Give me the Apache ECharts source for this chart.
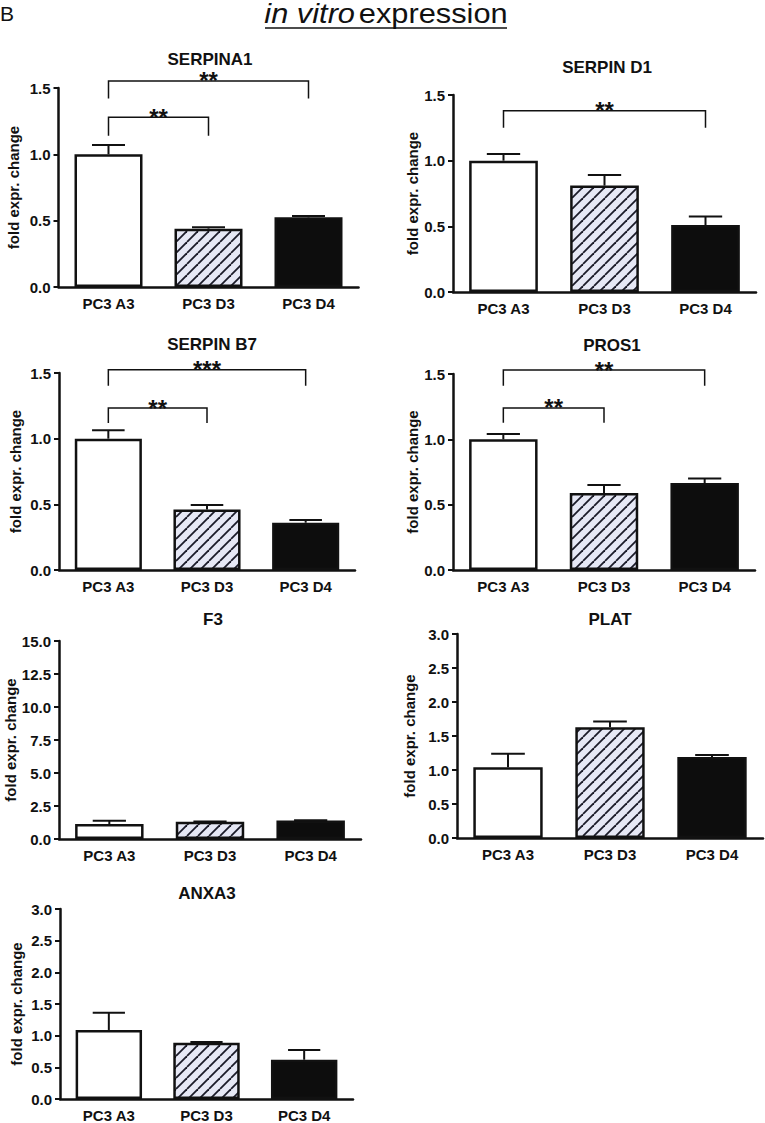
<!DOCTYPE html>
<html>
<head>
<meta charset="utf-8">
<script src="https://cdn.jsdelivr.net/npm/echarts@6/dist/echarts.min.js"></script>
<style>
html,body{margin:0;padding:0;background:#fff;}
#chart{width:765px;height:1123px;}
</style>
</head>
<body>
<div id="chart"></div>
<script>
// ---------- data ----------
const categories = ['PC3 A3', 'PC3 D3', 'PC3 D4'];
const panelTitles = ['SERPINA1', 'SERPIN D1', 'SERPIN B7', 'PROS1', 'F3', 'PLAT', 'ANXA3'];
const yAxisName = 'fold expr. change';

const serpina1 = [1.00, 0.44, 0.525];
const serpina1Err = [0.07, 0.01, 0.01];
const serpind1 = [1.00, 0.81, 0.51];
const serpind1Err = [0.05, 0.08, 0.065];
const serpinb7 = [1.00, 0.46, 0.36];
const serpinb7Err = [0.065, 0.035, 0.02];
const pros1 = [1.00, 0.59, 0.665];
const pros1Err = [0.04, 0.06, 0.035];
const f3 = [1.13, 1.30, 1.40];
const f3Err = [0.25, 0.03, 0.02];
const plat = [1.04, 1.63, 1.19];
const platErr = [0.20, 0.085, 0.03];
const anxa3 = [1.09, 0.89, 0.62];
const anxa3Err = [0.27, 0.01, 0.155];

const yMax = [1.5, 1.5, 1.5, 1.5, 15, 3, 3];
const yStep = [0.5, 0.5, 0.5, 0.5, 2.5, 0.5, 0.5];

// significance brackets: [fromIndex, toIndex, barLevel, legBottom, label]
const sigSerpina1 = [[0, 2, 1.553, 1.42, '**'], [0, 1, 1.28, 1.14, '**']];
const sigSerpind1 = [[0, 2, 1.38, 1.25, '**']];
const sigSerpinb7 = [[0, 2, 1.525, 1.403, '***'], [0, 1, 1.233, 1.119, '**']];
const sigPros1 = [[0, 2, 1.53, 1.41, '**'], [0, 1, 1.24, 1.127, '**']];

const means = [serpina1, serpind1, serpinb7, pros1, f3, plat, anxa3];
const errs = [serpina1Err, serpind1Err, serpinb7Err, pros1Err, f3Err, platErr, anxa3Err];
const sigs = [sigSerpina1, sigSerpind1, sigSerpinb7, sigPros1, [], [], []];

// ---------- layout ----------
const gridBoxes = [
  [58.5, 88, 300, 199],
  [453, 95, 303, 197],
  [59, 373, 296, 197],
  [453, 374, 302, 196],
  [59, 641, 302, 198],
  [457, 634, 306, 204],
  [60, 909, 293, 193]
];
const nameGaps = [38, 31, 36, 31, 38, 40, 36];
const titlePos = [[210, 59], [607, 67], [212, 344], [612, 345], [213, 619], [610, 619], [207, 893]];

const FONT = '"Liberation Sans", Arial, Helvetica, sans-serif';
const INK = '#111111';

function hatchCanvas() {
  const s = 11;
  const c = document.createElement('canvas');
  c.width = s; c.height = s;
  const g = c.getContext('2d');
  g.fillStyle = '#e6e8f5';
  g.fillRect(0, 0, s, s);
  g.strokeStyle = '#1a1a28';
  g.lineWidth = 1.8;
  for (let k = -1; k <= 1; k++) {
    g.beginPath();
    g.moveTo(k * s, s);
    g.lineTo(k * s + s, 0);
    g.stroke();
  }
  return c;
}
const hatch = { image: hatchCanvas(), repeat: 'repeat' };
const fills = ['#ffffff', hatch, '#0d0d0d'];

const grid = [], xAxis = [], yAxis = [], series = [], graphic = [];

gridBoxes.forEach((b, i) => {
  grid.push({ left: b[0], top: b[1], width: b[2], height: b[3], containLabel: false });
  xAxis.push({
    type: 'category', gridIndex: i, data: categories,
    axisLine: { lineStyle: { color: INK, width: 2.5 } },
    axisTick: { alignWithLabel: true, length: 5, lineStyle: { color: INK, width: 2 } },
    axisLabel: { color: INK, fontWeight: 'bold', fontSize: 15, margin: 9, fontFamily: FONT }
  });
  yAxis.push({
    type: 'value', gridIndex: i, min: 0, max: yMax[i], interval: yStep[i],
    axisLine: { show: true, lineStyle: { color: INK, width: 2.5 } },
    axisTick: { show: true, length: 5, lineStyle: { color: INK, width: 2 } },
    splitLine: { show: false },
    axisLabel: { color: INK, fontWeight: 'bold', fontSize: 15, margin: 8, fontFamily: FONT,
      formatter: v => v.toFixed(1) },
    name: yAxisName, nameLocation: 'middle', nameGap: nameGaps[i], nameRotate: 90,
    nameTextStyle: { color: INK, fontWeight: 'bold', fontSize: 15, fontFamily: FONT }
  });
  series.push({
    type: 'bar', xAxisIndex: i, yAxisIndex: i, barWidth: '68%', z: 2,
    data: means[i].map((v, j) => ({ value: v, itemStyle: { color: fills[j] } })),
    itemStyle: { borderColor: INK, borderWidth: 2.5 },
    emphasis: { disabled: true }, animation: false
  });
  series.push({
    type: 'custom', xAxisIndex: i, yAxisIndex: i, z: 3, animation: false,
    data: means[i].map((v, j) => [j, v, errs[i][j]]),
    renderItem: (params, api) => {
      const x = api.value(0), v = api.value(1), e = api.value(2);
      const p0 = api.coord([x, v]);
      const p1 = api.coord([x, v + e]);
      const half = api.size([1, 0])[0] * 0.165;
      return { type: 'group', children: [
        { type: 'line', shape: { x1: p0[0], y1: p0[1], x2: p1[0], y2: p1[1] }, style: { stroke: INK, lineWidth: 2 } },
        { type: 'line', shape: { x1: p1[0] - half, y1: p1[1], x2: p1[0] + half, y2: p1[1] }, style: { stroke: INK, lineWidth: 2 } }
      ] };
    }
  });
  if (sigs[i].length) {
    const sig = sigs[i];
    series.push({
      type: 'custom', xAxisIndex: i, yAxisIndex: i, z: 4, animation: false, clip: false,
      data: sig.map(s => [s[0], s[1], s[2], s[3]]),
      renderItem: (params, api) => {
        const a = api.coord([api.value(0), api.value(2)]);
        const b = api.coord([api.value(1), api.value(2)]);
        const la = api.coord([api.value(0), api.value(3)]);
        const st = { stroke: INK, lineWidth: 1.5 };
        return { type: 'group', children: [
          { type: 'polyline', shape: { points: [[la[0], la[1]], [a[0], a[1]], [b[0], b[1]], [b[0], la[1]]] }, style: Object.assign({ fill: 'none' }, st) },
          { type: 'text', x: (a[0] + b[0]) / 2, y: a[1],
            style: { text: sig[params.dataIndex][4], fill: INK, fontSize: 24, fontWeight: 'bold', fontFamily: FONT,
              lineHeight: 12, align: 'center', verticalAlign: 'middle' } }
        ] };
      }
    });
  }
  graphic.push({ type: 'text', x: titlePos[i][0], y: titlePos[i][1],
    style: { text: panelTitles[i], fill: INK, fontSize: 17, fontWeight: 'bold', fontFamily: FONT,
      lineHeight: 14, align: 'center', verticalAlign: 'middle' } });
});

// header
graphic.push({ type: 'text', x: 0, y: 13,
  style: { text: 'B', fill: INK, fontSize: 21, fontFamily: FONT, align: 'left', verticalAlign: 'middle' } });
graphic.push({ type: 'text', x: 386, y: 14, scaleX: 1.14,
  style: { text: '{i|in vitro} {n|expression}', fill: INK, align: 'center', verticalAlign: 'middle',
    rich: { i: { fontStyle: 'italic', fontSize: 27, fontFamily: FONT, fill: INK },
            n: { fontSize: 27, fontFamily: FONT, fill: INK } } } });
graphic.push({ type: 'line', shape: { x1: 265, y1: 28, x2: 507, y2: 28 }, style: { stroke: INK, lineWidth: 1.5 } });

const chart = echarts.init(document.getElementById('chart'), null, { renderer: 'svg', width: 765, height: 1123 });
chart.setOption({ animation: false, backgroundColor: '#ffffff', grid, xAxis, yAxis, series, graphic });
</script>
</body>
</html>
